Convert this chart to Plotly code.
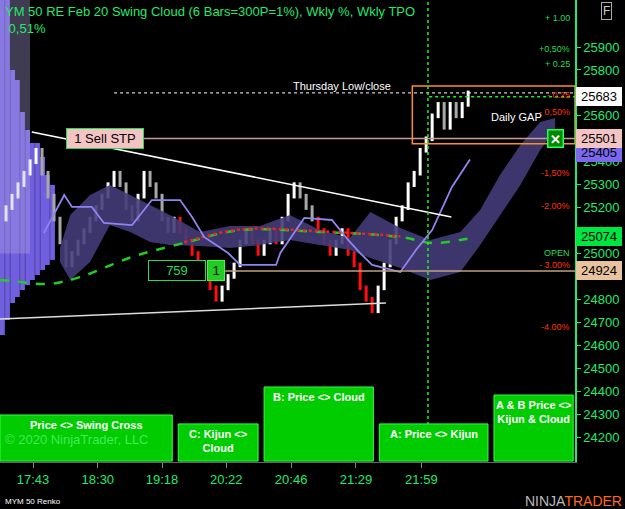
import plotly.graph_objects as go

# ---------------- data ----------------
brick_open0 = 25150
brick_closes = [25200,25250,25300,25350,25400,25450,
                25350,25250,25150,25050,24950,
                25000,25050,25100,25150,25200,25250,25300,25350,
                25300,25200,25150,
                25250,25350,
                25300,25250,25150,25100,
                25150,
                25100,25050,25000,24950,24900,24850,24800,
                24850,24900,24950,25050,25100,
                25050,25000,25050,25100,25050,
                25150,25250,25300,
                25250,25200,25150,25100,25050,25000,
                25050,25100,
                25000,24950,24850,24800,24750,
                24850,24950,25050,25150,25200,25300,25350,25450,25500,
                25600,25650,25550,25650,25600,25650,25700]

cloud_x = [10,11.7,15,18.3,21.7,25,28.3,33.3,38.3,43.3,48.3,53.3,58.3,61.7,66.7,71.7,76.7,80,83.3,86.7,90,92.5]
cloud_top = [25024,25168,25255,25299,25255,25211,25168,25094,25120,25120,25168,25102,25068,25181,25111,25059,25094,25190,25342,25473,25573,25591]
cloud_bot = [24963,24884,24963,25124,25094,25050,25037,25033,25024,25037,25059,25037,25015,24980,24937,24884,24919,25037,25168,25299,25451,25538]

kijun_x = [7.3,10.7,12,15.3,17.3,22,25.3,30,32,34,38,40,46,46.7,50.7,55.3,58,60,62,66.7,69.3,72,75.3,78.3]
kijun_y = [25089,25255,25203,25203,25133,25124,25233,25233,25159,25072,25002,24950,24950,25002,25155,25146,25059,25002,24950,24919,25015,25102,25290,25410]

sma_x = [0,2,8,13.3,22,30.7,40,53.3,66.7,72,78.7]
sma_y = [24884,24880,24867,24897,24985,25046,25102,25094,25072,25046,25068]

prof_x = [0.4,1.25,2.1,2.9,3.75,4.6,5.4,6.25,7.1,7.9,8.75]
prof_top = [26105,26105,25800,25756,25617,25538,25482,25482,25421,25342,25299]
prof_bot = [24645,24710,24784,24810,24841,24863,24884,24906,24928,24950,24972]

time_vals = [5.5,16.3,27,37.7,48.5,59.3,70.2]
time_labels = ["17:43","18:30","19:18","20:22","20:46","21:29","21:59"]
price_ticks = list(range(24200,26000,100))
hidden_ticks = [25700, 25500, 25100, 24900]

tags = [(25683,"25683","#ffffff"),(25440,"25405","#7b68ee"),(25501,"25501","#f4c4c4"),
        (25074,"25074","#00e640"),(24924,"24924","#e8c39e")]
pct_labels = [(26027,"+ 1.00","#22dd55"),(25891,"+0,50%","#22dd55"),(25826,"+ 0.25","#22dd55"),
              (25691,"- 0.25","#ff3300"),(25617,"- 0,50%","#ff3300"),(25351,"-1,50%","#ff3300"),
              (25207,"-2.00%","#ff3300"),(25002,"OPEN","#22dd55"),(24950,"- 3.00%","#ff3300"),
              (24680,"-4.00%","#ff3300")]
panel_boxes = [(0,28.7,24296,"Price <> Swing Cross"),(29.7,43,24257,"C: Kijun <><br>Cloud"),
               (44,62.2,24418,"B: Price <> Cloud"),(63.2,81.3,24257,"A: Price <> Kijun"),
               (82.3,95.5,24383,"A & B Price <><br>Kijun & Cloud")]
panel_bottom = 24095

# ---------------- figure ----------------
fig = go.Figure()
GREEN = "#22e86c"
FONT = "Liberation Sans"

fig.add_trace(go.Bar(x=prof_x, y=[t-b for t,b in zip(prof_top,prof_bot)], base=prof_bot,
                     width=0.8, marker_color="#7060e0", marker_line_width=0, hoverinfo="skip"))
fig.add_trace(go.Scatter(x=cloud_x, y=cloud_bot, mode="lines", line=dict(width=0), hoverinfo="skip"))
fig.add_trace(go.Scatter(x=cloud_x, y=cloud_top, mode="lines", line=dict(width=0),
                         fill="tonexty", fillcolor="rgba(66,60,120,0.9)", hoverinfo="skip"))
fig.add_trace(go.Scatter(x=sma_x, y=sma_y, mode="lines", line=dict(color="#22cc22", width=2.5, dash="dash", shape="spline")))
red_x = [x for x in sma_x if 28 <= x <= 67]
red_y = [y for x, y in zip(sma_x, sma_y) if 28 <= x <= 67]
fig.add_trace(go.Scatter(x=red_x, y=[v+3 for v in red_y], mode="lines",
                         line=dict(color="#ee2222", width=2.5, dash="dot", shape="spline")))
fig.add_trace(go.Scatter(x=kijun_x, y=kijun_y, mode="lines", line=dict(color="#8f84f0", width=1.8)))

opens = [brick_open0] + brick_closes[:-1]
bx, bb, bh, bc = [], [], [], []
for i, (o, c) in enumerate(zip(opens, brick_closes)):
    idx = i + 1
    up = c > o
    col = "#ffffff" if up else ("#ff1010" if (idx >= 30 and c <= 25100 and idx <= 62) else "#a8a8a8")
    bx.append(idx); bb.append(min(o, c) - 10); bh.append(abs(c - o) + 20); bc.append(col)
fig.add_trace(go.Bar(x=bx, y=bh, base=bb, width=0.5, marker_color=bc, marker_line_width=0))

shapes = []
shapes.append(dict(type="rect", xref="x", yref="y", x0=0, x1=5, y0=25000, y1=26105,
                   fillcolor="rgba(180,170,230,0.35)", line_width=0, layer="above"))
shapes.append(dict(type="line", x0=5.3, y0=25530, x1=75.2, y1=25159, line=dict(color="white", width=1.5)))
shapes.append(dict(type="line", x0=0, y0=24714, x1=64.3, y1=24784, line=dict(color="#dddddd", width=1.5)))
shapes.append(dict(type="line", x0=19, x1=95.8, y0=25700, y1=25700, line=dict(color="white", width=1, dash="dot")))
shapes.append(dict(type="line", x0=71.5, x1=95.8, y0=25683, y1=25683, line=dict(color="#22ee22", width=1.5, dash="dot")))
shapes.append(dict(type="line", x0=24, x1=95.8, y0=25501, y1=25501, line=dict(color="#c89a9a", width=1.5)))
shapes.append(dict(type="line", x0=37.5, x1=95.8, y0=24924, y1=24924, line=dict(color="#c0a080", width=1.5)))
shapes.append(dict(type="rect", x0=68.7, x1=95.8, y0=25478, y1=25730, line=dict(color="#ff9020", width=1.5)))
shapes.append(dict(type="line", x0=71.3, x1=71.3, y0=24095, y1=26105, line=dict(color="#22ee22", width=1.5, dash="dot")))
for x0, x1, top, txt in panel_boxes:
    shapes.append(dict(type="rect", x0=x0, x1=x1, y0=panel_bottom, y1=top, fillcolor="#00cc00",
                       line=dict(color="#33ff44", width=1), layer="above"))

ann = []
for x0, x1, top, txt in panel_boxes:
    ann.append(dict(x=(x0+x1)/2, y=top, text="<b>"+txt+"</b>", showarrow=False, yanchor="top", yshift=-2,
                    font=dict(color="white", size=11, family=FONT)))
ann.append(dict(x=0.5, y=24190, text="© 2020 NinjaTrader, LLC", showarrow=False, xanchor="left",
                font=dict(color="rgba(120,255,150,0.6)", size=13, family=FONT)))
ann.append(dict(xref="paper", yref="paper", x=0.005, y=0.995, xanchor="left", yanchor="top",
                text="YM 50 RE Feb 20 Swing Cloud (6 Bars=300P=1%), Wkly %, Wkly TPO<br> 0,51%",
                showarrow=False, align="left", font=dict(color=GREEN, size=13, family=FONT)))
ann.append(dict(x=57, y=25712, text="Thursday Low/close", showarrow=False, yanchor="bottom", yshift=-4,
                font=dict(color="white", size=11, family=FONT)))
ann.append(dict(x=86, y=25595, text="Daily GAP", showarrow=False, font=dict(color="white", size=11, family=FONT)))
ann.append(dict(x=17.5, y=25501, text="1 Sell STP", showarrow=False, bgcolor="#f4c4c4", bordercolor="#22dd55",
                borderwidth=1, borderpad=2, width=72, font=dict(color="black", size=13, family=FONT)))
ann.append(dict(x=29.5, y=24924, text="759", showarrow=False, bgcolor="black", bordercolor="#22dd55",
                borderwidth=1, borderpad=2, width=52, font=dict(color="#22dd55", size=13, family=FONT)))
ann.append(dict(x=36, y=24924, text="1", showarrow=False, bgcolor="#22cc22", bordercolor="#33ff44",
                borderwidth=1, borderpad=2, width=12, font=dict(color="black", size=13, family=FONT)))
ann.append(dict(x=92.5, y=25501, text="<b>✕</b>", showarrow=False, bgcolor="#008800", bordercolor="#22ff55",
                borderwidth=1.5, borderpad=0, width=14, height=16, font=dict(color="white", size=13)))
for p, t, c in pct_labels:
    ann.append(dict(xref="paper", x=0.995, y=p, text=t, showarrow=False, xanchor="right",
                    font=dict(color=c, size=9, family=FONT)))
for p, t, c in tags:
    ann.append(dict(xref="paper", x=1.0, y=p, text=t, showarrow=False, xanchor="left", xshift=1, bgcolor=c,
                    bordercolor="#ffffff" if c == "#ffffff" else c, borderwidth=1, borderpad=1, width=42,
                    font=dict(color="black", size=13, family=FONT)))
ann.append(dict(xref="paper", yref="paper", x=0.005, y=-0.085, xanchor="left", yanchor="middle", text="MYM 50 Renko",
                showarrow=False, font=dict(color="white", size=8, family=FONT)))
ann.append(dict(xref="paper", yref="paper", x=1.085, y=-0.085, xanchor="right", yanchor="middle",
                text="<span style='color:#bbbbbb'>NINJA</span><span style='color:#ff6a1a'>TRADER</span>",
                showarrow=False, font=dict(size=14, family=FONT)))
ann.append(dict(xref="paper", yref="paper", x=1.055, y=0.995, xanchor="center", yanchor="top", text="F",
                showarrow=False, bordercolor="#aaaaaa", borderwidth=1, borderpad=1,
                font=dict(color="#cccccc", size=12, family=FONT)))

fig.update_layout(
    width=625, height=509, margin=dict(l=0, r=50, t=0, b=47, autoexpand=False),
    paper_bgcolor="black", plot_bgcolor="black", showlegend=False, barmode="overlay",
    shapes=shapes, annotations=ann,
    xaxis=dict(range=[0, 95.8], tickvals=time_vals, ticktext=time_labels, showgrid=False, zeroline=False,
               automargin=False, ticks="outside", ticklen=5, tickcolor="#888888", showline=True, linecolor="#666666",
               tickfont=dict(color=GREEN, size=13, family=FONT)),
    yaxis=dict(range=[24091, 26105], side="right", tickvals=price_ticks,
               ticktext=["" if v in hidden_ticks else str(v) for v in price_ticks],
               automargin=False, showgrid=False, zeroline=False, ticks="outside", ticklen=4, tickcolor=GREEN,
               showline=True, linecolor=GREEN, linewidth=1.5,
               tickfont=dict(color=GREEN, size=13, family=FONT)),
)
fig.write_html("out.html", config={"displayModeBar": False},
               post_script="document.body.style.margin='0';document.body.style.background='black';")
